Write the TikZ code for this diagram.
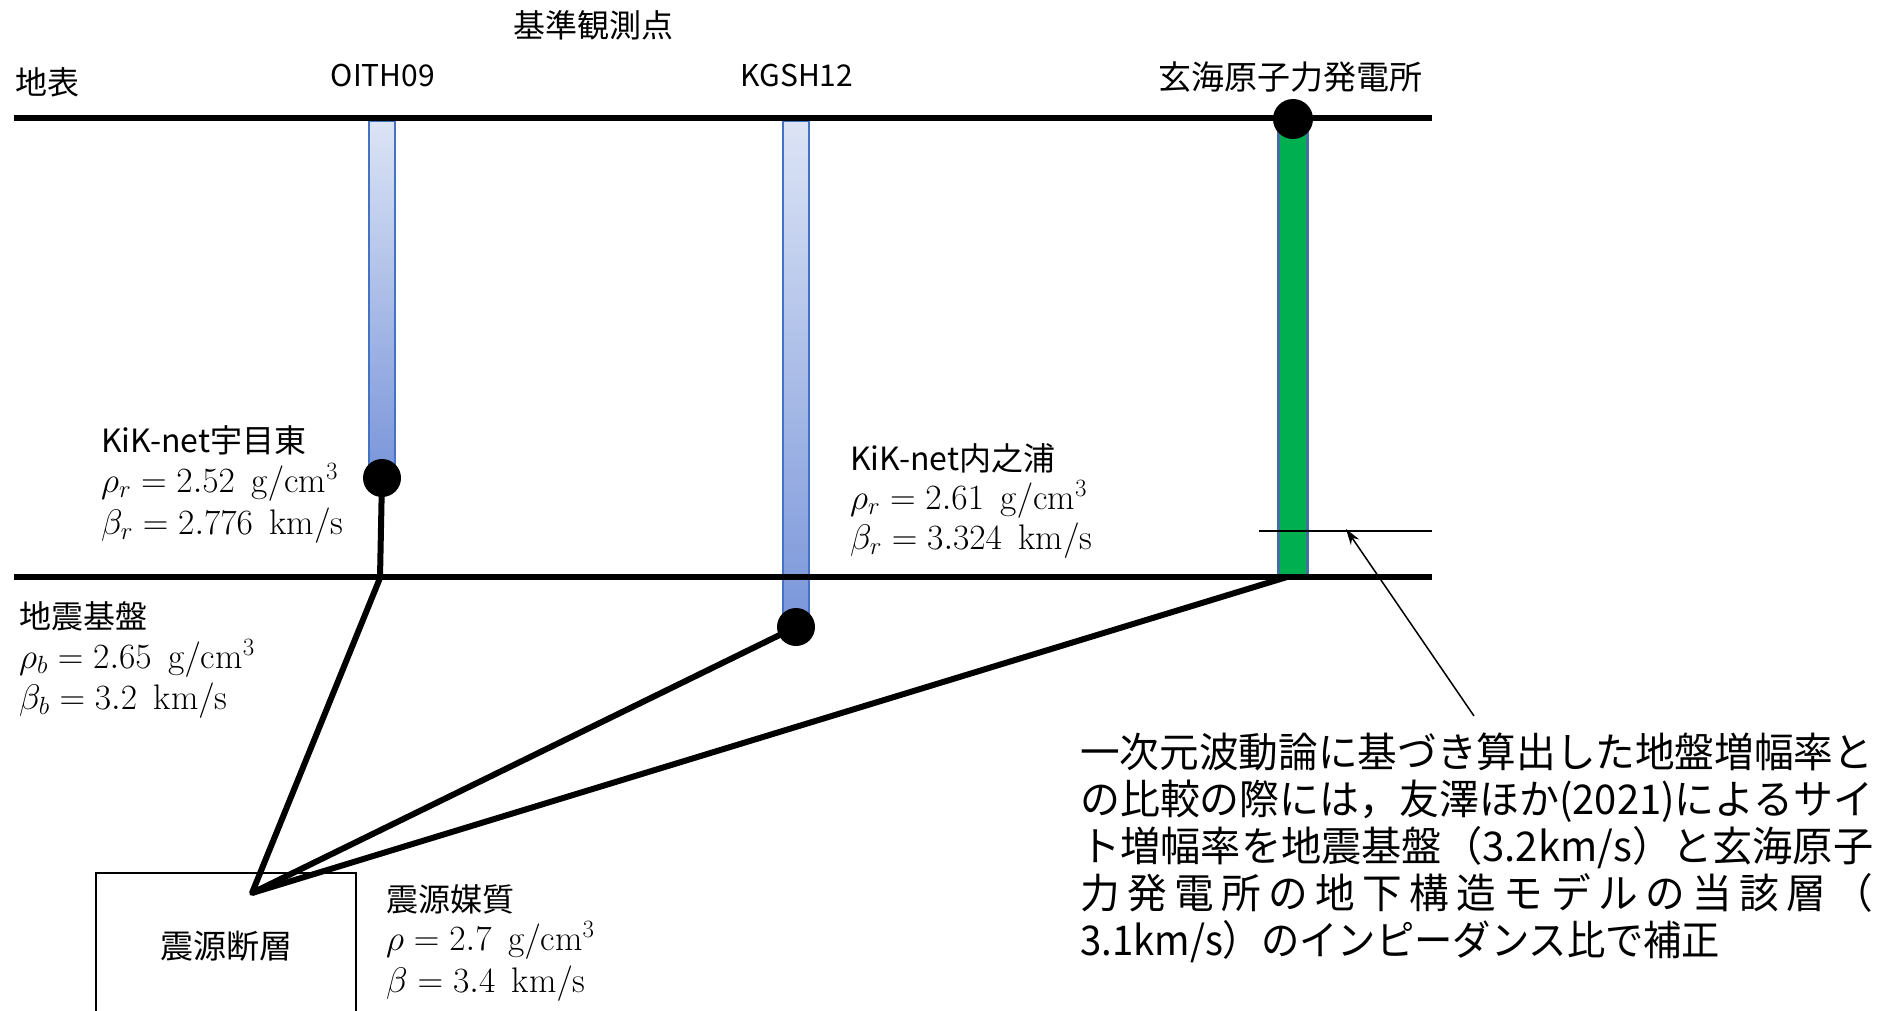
\RequirePackage{fix-cm}
\documentclass[tikz,border=0pt]{standalone}
\usepackage{fontspec}
\usepackage{graphicx}
\newfontfamily\jp{Noto Sans CJK JP}
\usetikzlibrary{arrows.meta}
\definecolor{tubeedge}{HTML}{4472C4}
\definecolor{tubetop}{HTML}{DCE4F5}
\definecolor{tubebot}{HTML}{7A96DA}
\definecolor{greenfill}{HTML}{00B050}
\definecolor{greenedge}{HTML}{41719C}
\newcommand{\unitgap}{\ \,}
\tikzset{
  thickline/.style={line width=6pt, black},
  thinline/.style={line width=1.5pt, black},
  dot/.style={circle, fill=black, inner sep=0pt, minimum size=#1},
  bluetube/.style={rectangle, draw=tubeedge, line width=2.5pt, top color=tubetop, bottom color=tubebot, minimum width=26pt, inner sep=0pt, anchor=north},
  greentube/.style={rectangle, draw=greenedge, line width=2.5pt, fill=greenfill, minimum width=29pt, inner sep=0pt, anchor=north},
  lab/.style={font=\jp\fontsize{32}{36}\selectfont, inner sep=0pt},
  latlab/.style={font=\jp\fontsize{30}{36}\selectfont, inner sep=0pt},
  jpline/.style={font=\jp\fontsize{32}{36}\selectfont, anchor=base west, inner sep=0pt},
  mline/.style={font=\fontsize{35.5}{40}\selectfont, anchor=base west, inner sep=0pt},
}
\begin{document}
\begin{tikzpicture}[x=1pt,y=-1pt]
\useasboundingbox[fill=white] (0,0) rectangle (1885,1011);
% tubes
\node[bluetube, minimum height=352pt] (t1) at (382,120) {};
\node[bluetube, minimum height=502pt] (t2) at (796,120) {};
\node[greentube, minimum height=458pt] (t3) at (1293,119) {};
% surface lines
\coordinate (sL) at (14,118);
\coordinate (sR) at (1432,118);
\coordinate (bL) at (14,577);
\coordinate (bR) at (1432,577);
\draw[thickline] (sL) -- (sR);
\draw[thickline] (bL) -- (bR);
% dots
\node[dot=38pt] (d1) at (382,478) {};
\node[dot=38pt] (d2) at (796,627) {};
\node[dot=40pt] (d3) at (1293,119) {};
% connection points
\coordinate (b1) at (380,578);
\coordinate (b3) at (1287,577);
\coordinate (src) at (252,893);
\draw[thickline] (d1.center) -- (b1);
\draw[thickline, line join=round] (b1) -- (src) -- (d2.center);
\draw[thickline] (src) -- (b3);
% thin layer line and arrow
\coordinate (lL) at (1259,531);
\coordinate (lR) at (1432,531);
\draw[thinline] (lL) -- (lR);
\coordinate (aS) at (1474,716);
\coordinate (aE) at (1346,529);
\draw[thinline, -{Stealth[length=16pt,width=10pt]}] (aS) -- (aE);
% source box
\draw[line width=2pt] (96,1015) -- (96,873) -- (356,873) -- (356,1015);
\node[font=\jp\fontsize{33}{36}\selectfont, inner sep=0pt] (box) at (226,946) {震源断層};
% top labels
\node[lab] (kijun) at (593,25) {基準観測点};
\node[lab] (chihyo) at (48,82) {地表};
\node[latlab] (n1) at (383,76) {OITH09};
\node[latlab] (n2) at (797,76) {KGSH12};
\node[font=\jp\fontsize{33}{36}\selectfont, inner sep=0pt] (n3) at (1290,77) {玄海原子力発電所};
% parameter labels
\node[jpline] (p1a) at (101,452) {KiK-net宇目東};
\node[mline] (p1b) at (101,492) {$\rho_r = 2.52\unitgap\mathrm{g/cm^3}$};
\node[mline] (p1c) at (101,534) {$\beta_r = 2.776\unitgap\mathrm{km/s}$};
\node[jpline] (p2a) at (850,470) {KiK-net内之浦};
\node[mline] (p2b) at (850,509) {$\rho_r = 2.61\unitgap\mathrm{g/cm^3}$};
\node[mline] (p2c) at (850,549) {$\beta_r = 3.324\unitgap\mathrm{km/s}$};
\node[jpline] (p3a) at (19,628) {地震基盤};
\node[mline] (p3b) at (19,668) {$\rho_b = 2.65\unitgap\mathrm{g/cm^3}$};
\node[mline] (p3c) at (19,709) {$\beta_b = 3.2\unitgap\mathrm{km/s}$};
\node[jpline] (p4a) at (386,911) {震源媒質};
\node[mline] (p4b) at (386,950) {$\rho = 2.7\unitgap\mathrm{g/cm^3}$};
\node[mline] (p4c) at (386,992) {$\beta = 3.4\unitgap\mathrm{km/s}$};
% annotation
\node[font=\jp\fontsize{41}{47}\selectfont, align=left, anchor=north west, inner sep=0pt] (note) at (1080,733) {\resizebox{793pt}{\height}{一次元波動論に基づき算出した地盤増幅率と}\\\resizebox{793pt}{\height}{の比較の際には，友澤ほか(2021)によるサイ}\\\resizebox{793pt}{\height}{ト増幅率を地震基盤（3.2km/s）と玄海原子}\\\resizebox{793pt}{\height}{\makebox[820pt][s]{力\hfill 発\hfill 電\hfill 所\hfill の\hfill 地\hfill 下\hfill 構\hfill 造\hfill モ\hfill デ\hfill ル\hfill の\hfill 当\hfill 該\hfill 層\hfill （}}\\\resizebox{640pt}{\height}{3.1km/s）のインピーダンス比で補正}};
\end{tikzpicture}
\end{document}
